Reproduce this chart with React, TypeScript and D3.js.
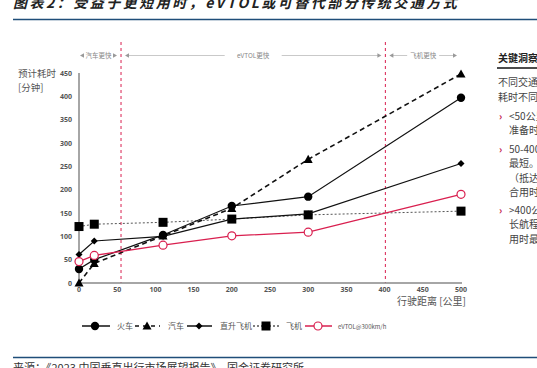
import React from "react";
import * as d3 from "d3";

const distances = [0, 20, 110, 200, 300, 500];
const train = [30, 50, 103, 165, 185, 397];
const car = [0, 42, 101, 160, 265, 448];
const heli = [61, 90, 100, 137, 148, 256];
const plane = [121, 126, 130, 137, 146, 154];
const evtol = [46, 59, 81, 101, 109, 190];
const xTicks = [0, 50, 100, 150, 200, 250, 300, 350, 400, 450, 500];
const yTicks = [0, 50, 100, 150, 200, 250, 300, 350, 400, 450];
const thresholds = [55, 401];
const zones = [
  { from: 0, to: 55, label: "汽车更快" },
  { from: 55, to: 401, label: "eVTOL更快" },
  { from: 401, to: 500, label: "飞机更快" },
];
const legendNames = ["火车", "汽车", "直升飞机", "飞机", "eVTOL@300km/h"];
const insightLines = [
  { t: "不同交通方式在不同距离下的", b: false },
  { t: "耗时不同", b: false },
  { t: "<50公里：汽车更快，因为飞行", b: true },
  { t: "准备时间较长", b: false },
  { t: "50-400公里：eVTOL用时", b: true },
  { t: "最短。", b: false },
  { t: "（抵达机场时间较短，适", b: false },
  { t: "合用时敏感出行）", b: false },
  { t: ">400公里：飞机更快，", b: true },
  { t: "长航程的飞机", b: false },
  { t: "用时最短", b: false },
];
const insightY = [86, 101, 120, 134, 153, 167, 182, 196, 214, 228, 243];

const FONT = "'Noto Sans CJK SC', 'Noto Sans', sans-serif";
const RED = "#d91f4f";

export default function App() {
  const x = d3.scaleLinear().domain([0, 500]).range([79, 461]);
  const y = d3.scaleLinear().domain([0, 450]).range([283, 73]);
  const line = d3
    .line<number>()
    .x((_, i) => x(distances[i]))
    .y((d) => y(d));

  const tri = (cx: number, cy: number, s = 4.5) =>
    `M${cx},${cy - s} L${cx + s},${cy + s * 0.8} L${cx - s},${cy + s * 0.8} Z`;
  const diamond = (cx: number, cy: number, s = 3.5) =>
    `M${cx},${cy - s} L${cx + s},${cy} L${cx},${cy + s} L${cx - s},${cy} Z`;

  const marker = (kind: string, cx: number, cy: number, key: string) => {
    if (kind === "circle") return <circle key={key} cx={cx} cy={cy} r={4.2} fill="#000" />;
    if (kind === "tri") return <path key={key} d={tri(cx, cy)} fill="#000" />;
    if (kind === "diamond") return <path key={key} d={diamond(cx, cy)} fill="#000" />;
    if (kind === "square")
      return <rect key={key} x={cx - 4.5} y={cy - 4.5} width={9} height={9} fill="#000" />;
    return <circle key={key} cx={cx} cy={cy} r={4} fill="#fff" stroke={RED} strokeWidth={1.2} />;
  };

  const series = [
    { data: plane, kind: "square", stroke: "#555", width: 1, dash: "2,2" },
    { data: car, kind: "tri", stroke: "#111", width: 1.6, dash: "5,3.5" },
    { data: heli, kind: "diamond", stroke: "#111", width: 1.2, dash: undefined },
    { data: train, kind: "circle", stroke: "#111", width: 1.2, dash: undefined },
    { data: evtol, kind: "open", stroke: RED, width: 1.3, dash: undefined },
  ];

  const legendItems = [
    { kind: "circle", stroke: "#111", dash: undefined, x0: 82, x1: 110, mx: 95, tx: 114 },
    { kind: "tri", stroke: "#111", dash: "4,4", x0: 135, x1: 160, mx: 147, tx: 165 },
    { kind: "diamond", stroke: "#111", dash: undefined, x0: 187, x1: 212, mx: 199, tx: 217 },
    { kind: "square", stroke: "#555", dash: "2,2", x0: 253, x1: 280, mx: 266, tx: 283 },
    { kind: "open", stroke: RED, dash: undefined, x0: 305, x1: 332, mx: 318, tx: 335 },
  ];

  return (
    <svg width={537} height={368} style={{ position: "absolute", left: 0, top: 0, background: "#fff" }} fontFamily={FONT}>
      {/* title */}
      <text x={13} y={8} fontSize={14} fontWeight="bold" fontStyle="italic" fill="#222" letterSpacing={2.5}>
        图表2：受益于更短用时，eVTOL或可替代部分传统交通方式
      </text>
      <line x1={13} x2={537} y1={19.5} y2={19.5} stroke="#1f4e79" strokeWidth={1.5} />

      {/* zone annotations */}
      {zones.map((z, i) => {
        const a = x(z.from) + (i === 0 ? 1 : 4);
        const b = x(z.to) - 4;
        const mid = (a + b) / 2;
        const tw = z.label.length * 7 + (i === 1 ? 4 : 0);
        return (
          <g key={"z" + i}>
            <line x1={a + 3} x2={mid - tw / 2 - 2} y1={55.5} y2={55.5} stroke="#bbb" strokeWidth={0.8} />
            <line x1={mid + tw / 2 + 2} x2={b - 3} y1={55.5} y2={55.5} stroke="#bbb" strokeWidth={0.8} />
            <path d={`M${a},55.5 L${a + 4},53.3 L${a + 4},57.7 Z`} fill="#999" />
            <path d={`M${b},55.5 L${b - 4},53.3 L${b - 4},57.7 Z`} fill="#999" />
            <text x={mid} y={58} fontSize={6.5} fill="#888" textAnchor="middle">
              {z.label}
            </text>
          </g>
        );
      })}

      {/* threshold lines */}
      {thresholds.map((t, i) => (
        <line key={"t" + i} x1={x(t)} x2={x(t)} y1={42} y2={283} stroke={RED} strokeWidth={1} strokeDasharray="3,3" />
      ))}

      {/* axes */}
      <line x1={79} x2={79} y1={73} y2={283} stroke="#888" strokeWidth={1.5} />
      <line x1={79} x2={462} y1={283} y2={283} stroke="#888" strokeWidth={1.5} />
      {yTicks.map((t) => (
        <text key={"y" + t} x={72} y={y(t) + 2.5} fontSize={7} fontWeight="bold" fill="#555" textAnchor="end" fontFamily="'Open Sans', sans-serif">
          {t}
        </text>
      ))}
      {xTicks.map((t) => (
        <text key={"x" + t} x={x(t)} y={292} fontSize={7} fontWeight="bold" fill="#555" textAnchor="middle" fontFamily="'Open Sans', sans-serif">
          {t}
        </text>
      ))}
      <text x={18} y={77} fontSize={9.5} fill="#555">预计耗时</text>
      <text x={18} y={91} fontSize={9.5} fill="#555">[分钟]</text>
      <text x={466} y={305} fontSize={10} fill="#555" textAnchor="end">行驶距离 [公里]</text>

      {/* series */}
      {series.map((s, si) => (
        <g key={"s" + si}>
          <path d={line(s.data) || ""} fill="none" stroke={s.stroke} strokeWidth={s.width} strokeDasharray={s.dash} />
          {s.data.map((v, i) => marker(s.kind, x(distances[i]), y(v), `m${si}-${i}`))}
        </g>
      ))}

      {/* legend */}
      {legendItems.map((l, i) => (
        <g key={"l" + i}>
          <line x1={l.x0} x2={l.x1} y1={326} y2={326} stroke={l.stroke} strokeWidth={1.5} strokeDasharray={l.dash} />
          {marker(l.kind, l.mx, 326, "lm" + i)}
          <text x={l.tx + 3} y={329} fontSize={i === 4 ? 6 : 8} fill="#555">
            {legendNames[i]}
          </text>
        </g>
      ))}

      {/* insight panel */}
      <text x={498} y={62} fontSize={10} fontWeight="bold" fill="#222">关键洞察</text>
      <line x1={497} x2={537} y1={68} y2={68} stroke="#111" strokeWidth={1.5} />
      {insightLines.map((l, i) => (
        <g key={"in" + i}>
          {l.b && (
            <text x={499} y={insightY[i]} fontSize={10} fontWeight="bold" fill="#c0103f">›</text>
          )}
          <text x={i < 2 ? 498 : 509} y={insightY[i]} fontSize={10} fill="#444">
            {l.t}
          </text>
        </g>
      ))}

      {/* footer */}
      <line x1={13} x2={537} y1={357.5} y2={357.5} stroke="#1f4e79" strokeWidth={1.5} />
      <text x={13} y={372} fontSize={11} fill="#333">
        来源：《2023 中国垂直出行市场展望报告》，国金证券研究所
      </text>
    </svg>
  );
}
